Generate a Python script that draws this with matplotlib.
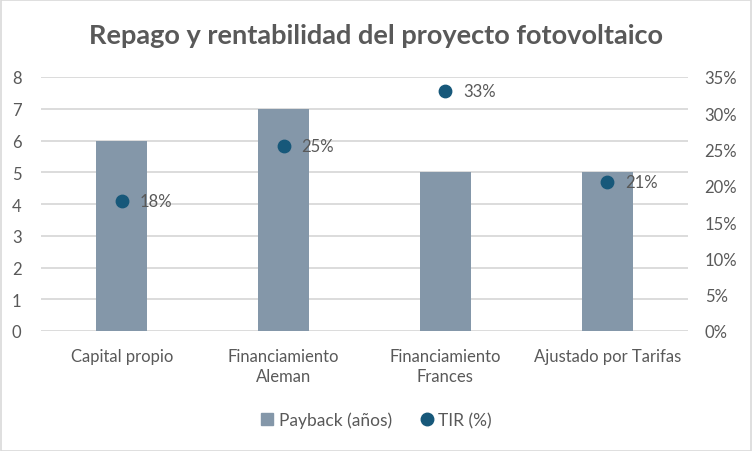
import matplotlib
matplotlib.use("Agg")
import matplotlib.pyplot as plt
import numpy as np
from matplotlib.lines import Line2D
from matplotlib.patches import Rectangle
from matplotlib.ticker import PercentFormatter

categories = ["Capital propio", "Financiamiento\nAleman", "Financiamiento\nFrances", "Ajustado por Tarifas"]
payback_years = [6, 7, 5, 5]
tir = [0.179, 0.255, 0.331, 0.206]
tir_labels = ["18%", "25%", "33%", "21%"]

BAR_COLOR = "#8497A9"
DOT_COLOR = "#17587A"
TEXT_COLOR = "#595959"
GRID_COLOR = "#D9D9D9"

plt.rcParams["font.family"] = ["Lato", "DejaVu Sans"]

fig = plt.figure(figsize=(7.52, 4.52), dpi=100)
W, H = 752, 452
ax = fig.add_axes([41 / W, 1 - 332 / H, (688 - 41) / W, (332 - 78) / H])
ax2 = ax.twinx()

x = np.arange(len(categories))
ax.bar(x, payback_years, width=0.315, color=BAR_COLOR, zorder=2)
ax.set_xlim(-0.5, len(categories) - 0.5)
ax.set_ylim(0, 8)
ax.set_yticks(range(0, 9))
ax.yaxis.grid(True, color=GRID_COLOR, linewidth=1.3, zorder=0)
ax.set_axisbelow(True)
ax.set_xticks(x)
ax.set_xticklabels(categories, fontsize=12, color=TEXT_COLOR, linespacing=1.35)
ax.tick_params(axis="both", length=0, labelcolor=TEXT_COLOR, labelsize=12)
ax.tick_params(axis="x", pad=12)
ax.tick_params(axis="y", pad=14)

ax2.scatter(x, tir, s=80, color=DOT_COLOR, zorder=3)
for xi, yi, lab in zip(x, tir, tir_labels):
    ax2.annotate(lab, (xi, yi), xytext=(13, 0), textcoords="offset points",
                 va="center", ha="left", fontsize=12, color=TEXT_COLOR)
ax2.set_ylim(0, 0.35)
ax2.set_yticks(np.arange(0, 0.351, 0.05))
ax2.yaxis.set_major_formatter(PercentFormatter(1.0, decimals=0))
ax2.tick_params(axis="y", length=0, labelcolor=TEXT_COLOR, labelsize=12, pad=12)

for a in (ax, ax2):
    for s in a.spines.values():
        s.set_visible(False)

fig.text(0.5, 1 - 36 / H, "Repago y rentabilidad del proyecto fotovoltaico",
         ha="center", va="center", fontsize=19.5, fontweight="bold", color=TEXT_COLOR)

handles = [
    Line2D([], [], marker="s", linestyle="none", markersize=8, color=BAR_COLOR, label="Payback (años)"),
    Line2D([], [], marker="o", linestyle="none", markersize=9, color=DOT_COLOR, label="TIR (%)"),
]
leg = fig.legend(handles=handles, loc="center", bbox_to_anchor=(0.5, 1 - 421 / H), ncol=2,
                 frameon=False, fontsize=12.5, handlelength=0.8, handletextpad=0.25, columnspacing=1.6)
for t in leg.get_texts():
    t.set_color(TEXT_COLOR)

fig.patches.append(Rectangle((0.5 / W, 0.5 / H), 1 - 1.5 / W, 1 - 1.5 / H, transform=fig.transFigure,
                             fill=False, edgecolor="#D9D9D9", linewidth=1.2))

fig.savefig("out.png", dpi=100)
